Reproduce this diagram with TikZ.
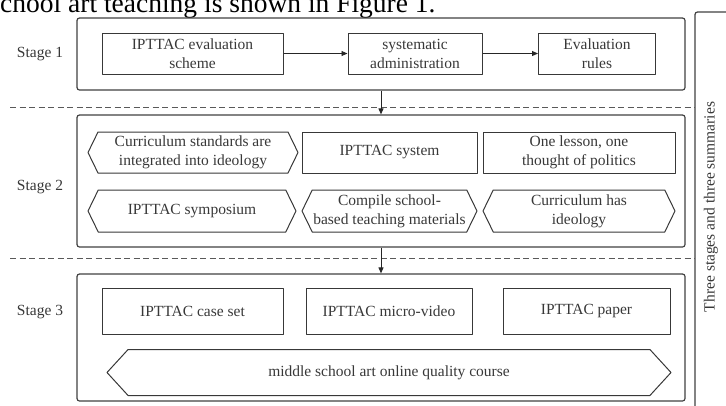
\documentclass[tikz,border=0pt]{standalone}
\usepackage{fontspec}
\setmainfont{Liberation Serif}
\usetikzlibrary{arrows.meta,shapes.symbols}

\begin{document}
\begin{tikzpicture}[x=1pt,y=-1pt,
    line join=round,
    every node/.style={font=\fontsize{15.5}{19}\selectfont, text=black!78, inner sep=0pt, align=center},
    stagebox/.style={draw=black!75, line width=1.2pt, rounded corners=2.5pt, minimum width=608pt},
    itembox/.style={draw=black!78, line width=1pt},
    hexbox/.style={draw=black!78, line width=1pt, signal, signal to=west and east, signal pointer angle=#1},
    flow/.style={draw=black!85, line width=0.9pt, -{Triangle[length=6pt,width=5pt]}},
    sepline/.style={draw=black!65, line width=1pt, dash pattern=on 6pt off 3.5pt}]%sizes in px of the reference
  \useasboundingbox (0,0) rectangle (726,405);
  \node[anchor=base west, font=\fontsize{27.5}{30}\selectfont, text=black] (intro) at (-10.7,12.5) {school art teaching is shown in Figure 1.};

  % the three stage frames
  \node[stagebox, minimum height=72pt] (stageA) at (381,54) {};
  \node[stagebox, minimum height=132pt] (stageB) at (381,181) {};
  \node[stagebox, minimum height=127pt] (stageC) at (381,337.5) {};
  \node (labA) at (40,54) {Stage 1};
  \node (labB) at (40,187) {Stage 2};
  \node (labC) at (40,312) {Stage 3};

  % summary column on the right
  \draw[draw=black!75, line width=1.2pt, rounded corners=2.5pt] (695,12) rectangle (760,430);
  \node[rotate=90] (summary) at (711,207) {Three stages and three summaries};
  \coordinate (sepA) at (10,107);
  \coordinate (sepB) at (10,258);
  \draw[sepline] (sepA) -- (sepA -| 695,0);
  \draw[sepline] (sepB) -- (sepB -| 695,0);

  % stage 1
  \node[itembox, minimum width=181pt, minimum height=41pt] (scheme) at (192.5,53.5) {IPTTAC evaluation\\scheme};
  \node[itembox, minimum width=134pt, minimum height=41pt] (admin) at (415,53.5) {systematic\\administration};
  \node[itembox, minimum width=117pt, minimum height=41pt] (rules) at (597,53.5) {Evaluation\\rules};
  \draw[flow] (scheme) -- (admin);
  \draw[flow] (admin) -- (rules);

  % stage 2
  \node[hexbox=128, minimum width=210pt, minimum height=41pt] (standards) at (193,152.5) {Curriculum standards are\\integrated into ideology};
  \node[itembox, minimum width=175pt, minimum height=41pt] (system) at (389.5,152.5) {IPTTAC system};
  \node[itembox, minimum width=192pt, minimum height=41pt] (lesson) at (579,152.5) {One lesson, one\\thought of politics};
  \node[hexbox=128, minimum width=208pt, minimum height=42pt] (symposium) at (192,211) {IPTTAC symposium};
  \node[hexbox=128, minimum width=175pt, minimum height=42pt] (materials) at (389.5,211) {Compile school-\\based teaching materials};
  \node[hexbox=128, minimum width=192pt, minimum height=42pt] (ideology) at (579,211) {Curriculum has\\ideology};

  % stage 3
  \node[itembox, minimum width=181pt, minimum height=46pt] (caseset) at (192.5,311) {IPTTAC case set};
  \node[itembox, minimum width=166pt, minimum height=46pt] (video) at (389,311) {IPTTAC micro-video};
  \node[itembox, minimum width=167pt, minimum height=46pt] (paper) at (586.5,311) {IPTTAC paper};
  \node[hexbox=95, minimum width=564pt, minimum height=46pt] (course) at (389,372.5) {middle school art online quality course};

  \draw[flow] (stageA) -- (stageB);
  \draw[flow] (stageB) -- (stageC);
\end{tikzpicture}
\end{document}
